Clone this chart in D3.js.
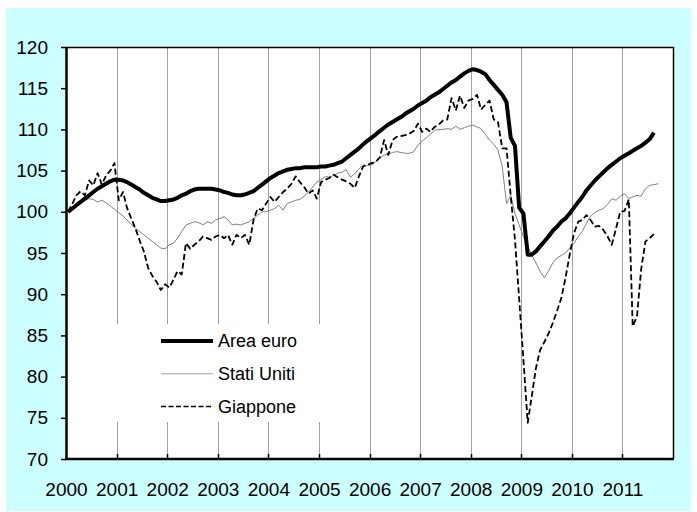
<!DOCTYPE html>
<html>
<head>
<meta charset="utf-8">
<script src="https://cdn.jsdelivr.net/npm/d3@7"></script>
<style>
  body { margin: 0; background: #fff; }
  svg { display: block; font-family: "Liberation Sans", Arial, sans-serif; }
</style>
</head>
<body>
<div id="chart"></div>
<script>
// monthly index, base 2000 = 100, Jan 2000 onward
const startYear = 2000;
const yearLabels = ['2000', '2001', '2002', '2003', '2004', '2005', '2006', '2007', '2008', '2009', '2010', '2011'];
const yTicks = [70, 75, 80, 85, 90, 95, 100, 105, 110, 115, 120];
const seriesNames = ['Area euro', 'Stati Uniti', 'Giappone'];

const areaEuro = [
  100.0, 100.4, 100.8, 101.2, 101.6, 102.0, 102.4, 102.8, 103.1, 103.4, 103.7, 103.9,
  103.9, 103.8, 103.6, 103.3, 103.0, 102.7, 102.3, 102.0, 101.7, 101.5, 101.3, 101.3,
  101.4, 101.5, 101.7, 102.0, 102.2, 102.5, 102.7, 102.8, 102.8, 102.8, 102.8, 102.7,
  102.6, 102.4, 102.3, 102.1, 102.0, 102.0, 102.1, 102.3, 102.5, 102.9, 103.3, 103.7,
  104.1, 104.4, 104.7, 104.9, 105.1, 105.2, 105.3, 105.3, 105.4, 105.4, 105.4, 105.4,
  105.5, 105.5, 105.6, 105.7, 105.9, 106.1, 106.5, 106.9, 107.3, 107.7, 108.2, 108.6,
  109.0, 109.4, 109.8, 110.2, 110.6, 110.9, 111.2, 111.5, 111.9, 112.2, 112.5, 112.9,
  113.2, 113.5, 113.9, 114.2, 114.5, 114.9, 115.3, 115.7, 116.0, 116.4, 116.8, 117.1,
  117.3, 117.2, 117.0, 116.7, 116.0, 115.4, 114.8, 114.2, 113.3, 109.0, 108.0, 100.5,
  99.8, 94.8, 94.8, 95.2, 95.8, 96.4, 97.0, 97.7, 98.2, 98.8, 99.2, 99.8,
  100.5, 101.2, 101.8, 102.6, 103.2, 103.8, 104.3, 104.8, 105.3, 105.7, 106.1, 106.5,
  106.8, 107.1, 107.4, 107.7, 108.0, 108.4, 108.8, 109.6
];

const statiUniti = [
  100.0, 100.4, 100.8, 101.2, 101.4, 101.6, 101.5, 101.2, 101.4, 101.1, 100.7, 100.3,
  99.9, 99.5, 99.0, 98.5, 98.0, 97.6, 97.2, 96.8, 96.4, 96.0, 95.6, 95.5,
  96.0, 96.2, 96.8, 97.6, 98.4, 98.6, 98.8, 98.7, 98.4, 98.8, 98.6, 99.0,
  99.2, 99.4, 99.0, 98.4, 98.5, 98.4, 98.6, 98.8, 99.2, 99.6, 100.0, 100.0,
  100.2, 100.4, 100.8, 100.2, 101.0, 101.2, 101.4, 101.5, 101.9, 102.4, 103.0, 103.6,
  103.9, 104.3, 104.2, 104.4, 104.7, 104.8, 105.1, 104.2, 104.6, 105.2, 105.7, 105.6,
  105.7, 106.1, 106.5, 106.9, 107.0, 107.2, 107.3, 107.2, 107.1, 107.1, 107.3, 108.1,
  108.6, 109.0, 109.4, 109.9, 110.0, 110.0, 110.1, 110.0, 110.4, 110.0, 110.2, 110.4,
  110.5, 110.3, 110.1, 109.4, 108.7, 108.2, 107.5, 105.5, 101.0, 102.0, 99.8, 98.4,
  97.0, 95.8, 94.8, 93.8, 92.8, 92.0, 92.8, 93.8, 94.4, 94.7, 95.0, 95.6,
  96.2, 97.0, 97.6, 98.6, 99.5, 99.9, 100.2, 100.4, 100.9, 101.6, 101.4, 101.9,
  102.2, 101.6, 101.8, 102.0, 101.9, 102.8, 103.2, 103.3, 103.4
];

const giappone = [
  100.0, 101.0, 102.0, 102.5, 102.0, 103.8, 103.2, 104.7, 103.3, 104.4, 105.0, 105.9,
  101.4, 102.4, 100.5, 99.2, 98.0, 96.5, 95.2, 93.2, 92.2, 91.5, 90.5, 91.2,
  90.8, 91.8, 92.8, 92.4, 96.2, 95.5, 96.0, 96.4, 97.0, 96.8, 96.6, 97.0,
  97.2, 96.8, 97.2, 96.0, 97.2, 96.8, 97.2, 96.0, 99.0, 100.4, 100.2, 101.0,
  101.8, 101.2, 101.8, 102.4, 102.8, 103.4, 104.3, 103.6, 103.0, 102.2, 102.6, 101.6,
  103.6, 103.9, 104.1, 104.5, 104.2, 103.9, 103.7, 103.4, 102.9, 104.3, 105.5, 105.7,
  105.9, 106.1, 106.6, 108.7, 106.9, 108.7, 109.1, 109.2, 109.3, 109.5, 109.8, 110.7,
  109.7, 110.1, 109.7, 110.3, 110.6, 111.1, 111.2, 113.8, 112.3, 114.1, 112.6, 113.5,
  113.7, 114.2, 112.4, 113.0, 113.5, 111.2, 110.9, 107.7, 107.7, 102.0, 96.6, 89.5,
  82.0, 74.4, 77.5, 81.0, 83.2, 84.2, 85.2, 86.5, 88.0, 89.5, 92.0, 94.8,
  97.4, 98.8, 99.0, 99.6, 99.0, 98.2, 98.3, 97.8, 97.0, 96.0, 98.0, 100.0,
  100.1, 101.5, 86.1, 87.3, 93.0, 96.4, 96.8, 97.3
];

const width = 697, height = 512;
const plot = { left: 66, right: 673, top: 47, bottom: 459 };

const svg = d3.select('#chart').append('svg')
  .attr('width', width)
  .attr('height', height);

// cyan frame
svg.append('rect')
  .attr('x', 6).attr('y', 8)
  .attr('width', 685).attr('height', 503)
  .attr('fill', '#ccffff');

svg.append('rect')
  .attr('x', plot.left).attr('y', plot.top)
  .attr('width', plot.right - plot.left).attr('height', plot.bottom - plot.top)
  .attr('fill', '#fff');

const x = d3.scaleTime()
  .domain([new Date(startYear, 0, 1), new Date(startYear + yearLabels.length, 0, 1)])
  .range([plot.left, plot.right]);

const y = d3.scaleLinear()
  .domain([70, 120])
  .range([plot.bottom, plot.top]);

const yearDates = yearLabels.map(d => new Date(+d, 0, 1));
const monthDate = i => new Date(startYear, i, 16);

// vertical gridlines at year starts
svg.append('g')
  .selectAll('line')
  .data(yearDates.slice(1))
  .enter().append('line')
  .attr('x1', d => Math.round(x(d)) + 0.5)
  .attr('x2', d => Math.round(x(d)) + 0.5)
  .attr('y1', plot.top)
  .attr('y2', plot.bottom)
  .style('stroke', '#a0a0a0')
  .style('stroke-width', 1);

// legend background hides the gridlines behind it
svg.append('rect')
  .attr('x', 105).attr('y', 324)
  .attr('width', 240).attr('height', 98)
  .attr('fill', '#fff');

const series = [
  { name: seriesNames[0], values: areaEuro, color: '#000', width: 4, dash: null },
  { name: seriesNames[1], values: statiUniti, color: '#808080', width: 1, dash: null },
  { name: seriesNames[2], values: giappone, color: '#000', width: 1.8, dash: '6,3' }
];

const line = d3.line()
  .x((d, i) => x(monthDate(i)))
  .y(d => y(d));

// draw thin ones first, euro on top
[series[1], series[2], series[0]].forEach(s => {
  svg.append('path')
    .datum(s.values)
    .attr('d', line)
    .attr('fill', 'none')
    .attr('stroke', s.color)
    .attr('stroke-width', s.width)
    .attr('stroke-linejoin', 'round')
    .attr('stroke-dasharray', s.dash);
});

// plot border (top, right)
svg.append('path')
  .attr('d', `M${plot.left},${plot.top + 0.5}H${plot.right + 0.5}V${plot.bottom}`)
  .attr('fill', 'none')
  .attr('stroke', '#000')
  .attr('stroke-width', 1.5);

// y axis
const yAxis = svg.append('g')
  .attr('transform', `translate(${plot.left},0)`)
  .call(d3.axisLeft(y).tickValues(yTicks).tickSize(5).tickSizeOuter(0).tickPadding(13));
yAxis.select('.domain').attr('stroke-width', 2.5);
yAxis.selectAll('.tick line').attr('stroke-width', 1.5);
yAxis.selectAll('text').style('font-size', '19px').attr('fill', '#000');

// x axis labels centred on year starts
const xAxis = svg.append('g')
  .attr('transform', `translate(0,${plot.bottom})`)
  .call(d3.axisBottom(x).tickValues(yearDates).tickSize(0).tickPadding(23.5)
    .tickFormat((d, i) => yearLabels[i]));
xAxis.select('.domain').remove();
xAxis.selectAll('text').style('font-size', '19px').attr('fill', '#000');

// inner year ticks
svg.append('g')
  .selectAll('line')
  .data(yearDates.slice(1))
  .enter().append('line')
  .attr('x1', d => Math.round(x(d)) + 0.5)
  .attr('x2', d => Math.round(x(d)) + 0.5)
  .attr('y1', plot.bottom)
  .attr('y2', plot.bottom - 5)
  .style('stroke', '#000')
  .style('stroke-width', 1.5);

svg.append('line')
  .attr('x1', plot.left - 1).attr('x2', plot.right + 1)
  .attr('y1', plot.bottom).attr('y2', plot.bottom)
  .style('stroke', '#000')
  .style('stroke-width', 2.5);

// legend
const legend = svg.append('g').attr('transform', 'translate(161,341)');
const rowGap = 32.8;
series.forEach((s, i) => {
  const row = legend.append('g').attr('transform', `translate(0,${i * rowGap})`);
  row.append('line')
    .attr('x1', 0).attr('x2', 52)
    .attr('y1', 0).attr('y2', 0)
    .attr('stroke', s.color === '#808080' ? '#a0a0a0' : s.color)
    .attr('stroke-width', i === 0 ? 4 : (i === 2 ? 1.5 : 1))
    .attr('stroke-dasharray', i === 2 ? '5,2.5' : null);
  row.append('text')
    .attr('x', 57).attr('y', 0)
    .attr('dy', '0.35em')
    .style('font-size', '18px')
    .text(s.name);
});
</script>
</body>
</html>
